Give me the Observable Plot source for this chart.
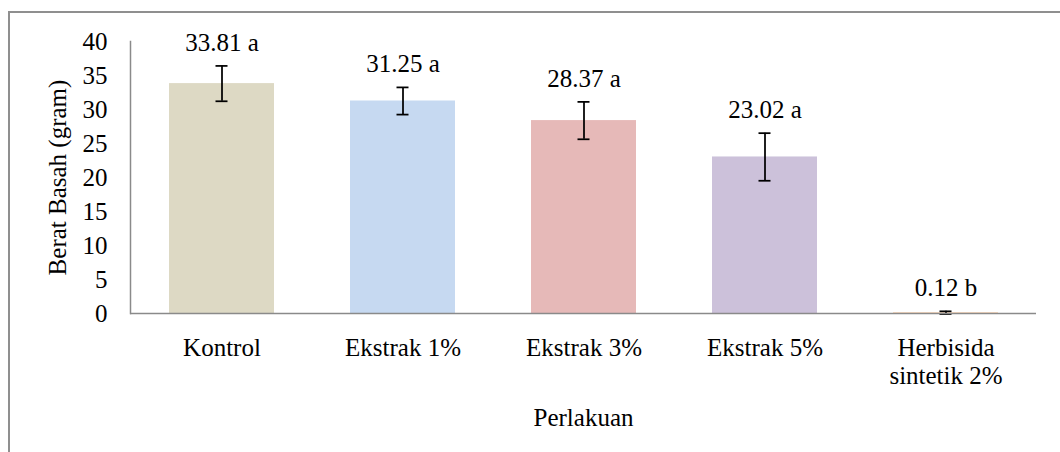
<!DOCTYPE html>
<html>
<head>
<meta charset="utf-8">
<script src="https://cdn.jsdelivr.net/npm/d3@7"></script>
<script src="https://cdn.jsdelivr.net/npm/@observablehq/plot@0.6"></script>
<style>
  html, body { margin: 0; padding: 0; background: #fff; overflow: hidden; }
  #wrap { position: relative; width: 1060px; height: 452px; }
  #border { position: absolute; left: 8px; top: 11px; width: 2000px; height: 2000px;
            border-top: 2px solid #8f8f8f; border-left: 2px solid #8f8f8f; pointer-events: none; }
  svg text { font-family: "Liberation Serif", "Times New Roman", serif; }
</style>
</head>
<body>
<div id="wrap"><div id="border"></div></div>
<script>
const categories = ["Kontrol", "Ekstrak 1%", "Ekstrak 3%", "Ekstrak 5%", "Herbisida\nsintetik 2%"];
const means = [33.81, 31.25, 28.37, 23.02, 0.12];
const errors = [2.6, 2.0, 2.75, 3.5, 0.2];
const letters = ["a", "a", "a", "a", "b"];
const colors = ["#ddd9c4", "#c6d9f1", "#e6b9b8", "#ccc1da", "#fcd5b5"];
const yTicks = [0, 5, 10, 15, 20, 25, 30, 35, 40];

const data = categories.map((c, i) => ({
  cat: c, mean: means[i], se: errors[i], letter: letters[i], color: colors[i]
}));

const serif = "Liberation Serif";

const chart = Plot.plot({
  width: 1060,
  height: 452,
  marginLeft: 130,
  marginRight: 24,
  marginTop: 41,
  marginBottom: 139,
  style: { fontFamily: serif, fontSize: "25px", color: "#000", background: "transparent" },
  x: { type: "band", domain: categories, paddingInner: 0.42, paddingOuter: 0.21, axis: null },
  y: { domain: [0, 40], axis: null },
  color: { type: "identity" },
  marks: [
    Plot.barY(data, { x: "cat", y: "mean", fill: "color" }),
    Plot.ruleX(data, { x: "cat", y1: d => d.mean - d.se, y2: d => d.mean + d.se, stroke: "#000", strokeWidth: 1.75 }),
    Plot.tickY(data, { x: "cat", y: d => d.mean + d.se, stroke: "#000", strokeWidth: 1.75, insetLeft: 46.5, insetRight: 46.5 }),
    Plot.tickY(data, { x: "cat", y: d => d.mean - d.se, stroke: "#000", strokeWidth: 1.75, insetLeft: 46.5, insetRight: 46.5 }),
    Plot.ruleY([0], { stroke: "#8a8a8a", strokeWidth: 1.5 }),
    Plot.frame({ anchor: "left", stroke: "#8a8a8a", strokeWidth: 1.5 }),
    Plot.axisY({ ticks: yTicks, tickSize: 0, tickPadding: 23, label: null, tickFormat: d => String(d), fontSize: 25, fontFamily: serif }),
    Plot.axisX({ tickSize: 0, tickPadding: 23, label: null, lineHeight: 1.12, fontSize: 25, fontFamily: serif }),
    Plot.text(data, { x: "cat", y: d => d.mean + d.se, text: d => d.mean.toFixed(2) + " " + d.letter, lineAnchor: "bottom", dy: -15, fontSize: 25, fontFamily: serif }),
    Plot.text(["Perlakuan"], { frameAnchor: "bottom", text: d => d, textAnchor: "middle", lineAnchor: "bottom", dy: 112, fontSize: 25, fontFamily: serif }),
    Plot.text(["Berat Basah (gram)"], { frameAnchor: "left", text: d => d, rotate: -90, textAnchor: "middle", lineAnchor: "bottom", dx: -65, fontSize: 25, fontFamily: serif })
  ]
});
document.getElementById("wrap").insertBefore(chart, document.getElementById("border"));
</script>
</body>
</html>
